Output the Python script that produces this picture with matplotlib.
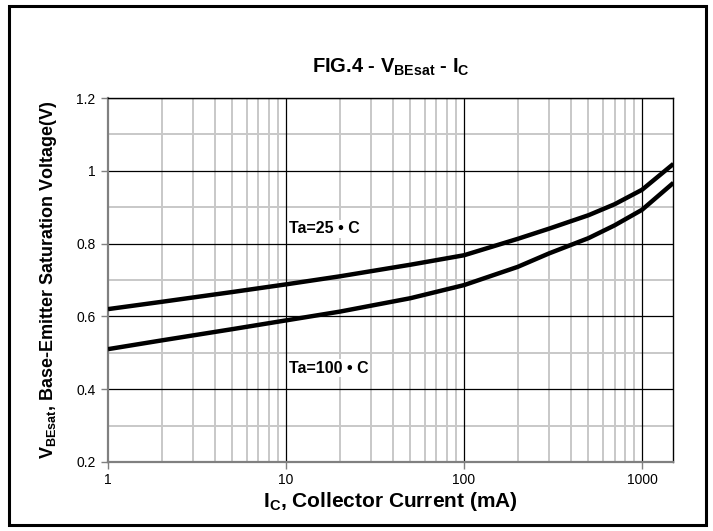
import matplotlib
matplotlib.use('Agg')
import matplotlib.pyplot as plt
from matplotlib.patches import Rectangle
from matplotlib.ticker import FixedLocator, NullFormatter

plt.rcParams['font.family'] = ['Liberation Sans', 'DejaVu Sans']
plt.rcParams['mathtext.fontset'] = 'custom'
plt.rcParams['mathtext.rm'] = 'Liberation Sans'
plt.rcParams['mathtext.bf'] = 'Liberation Sans:bold'

# collector current (mA) and base-emitter saturation voltage (V)
ic = [1, 2, 5, 10, 20, 50, 100, 200, 300, 500, 700, 1000, 1500]
vbe_25 = [0.620, 0.640, 0.667, 0.688, 0.710, 0.742, 0.768, 0.813, 0.841, 0.878, 0.908, 0.948, 1.019]
vbe_100 = [0.510, 0.534, 0.565, 0.589, 0.613, 0.650, 0.686, 0.736, 0.773, 0.815, 0.850, 0.893, 0.967]

label_25 = 'Ta=25 \u2022 C'
label_100 = 'Ta=100 \u2022 C'
x_ticks = [1, 10, 100, 1000]
y_ticks = [0.2, 0.4, 0.6, 0.8, 1.0, 1.2]
y_tick_labels = ['0.2', '0.4', '0.6', '0.8', '1', '1.2']

fig = plt.figure(figsize=(7.13, 5.31), dpi=100)
ax = fig.add_axes([0.1515, 0.130, 0.793, 0.6854])

# outer frame
fig.patches.append(Rectangle((0.0126, 0.011), 0.977, 0.978, transform=fig.transFigure,
                             fill=False, edgecolor='black', linewidth=2.2))

ax.set_xscale('log')
ax.set_xlim(1, 1500)
ax.set_ylim(0.2, 1.2)

minor_x = [m * 10 ** d for d in range(0, 4) for m in range(2, 10) if m * 10 ** d < 1500]
for x in minor_x:
    ax.axvline(x, color='#c8c8c8', linewidth=1.4, zorder=1)
for x in x_ticks[1:]:
    ax.axvline(x, color='black', linewidth=0.9, zorder=2)
for y in [0.3, 0.5, 0.7, 0.9, 1.1]:
    ax.axhline(y, color='#c8c8c8', linewidth=1.4, zorder=1)
for y in y_ticks[1:]:
    ax.axhline(y, color='black', linewidth=0.9, zorder=2)

ax.plot(ic, vbe_25, color='black', linewidth=3.2, solid_capstyle='butt', zorder=5)
ax.plot(ic, vbe_100, color='black', linewidth=3.2, solid_capstyle='butt', zorder=5)

ax.text(10.4, 0.841, label_25, fontsize=11.5, fontweight='bold', va='center', zorder=6,
        bbox=dict(facecolor='white', edgecolor='none', pad=1))
ax.text(10.4, 0.458, label_100, fontsize=11.5, fontweight='bold', va='center', zorder=6,
        bbox=dict(facecolor='white', edgecolor='none', pad=1))

ax.xaxis.set_major_locator(FixedLocator(x_ticks))
ax.set_xticklabels(['1', '10', '100', '1000'])
ax.xaxis.set_minor_locator(FixedLocator(minor_x))
ax.xaxis.set_minor_formatter(NullFormatter())
ax.set_yticks(y_ticks)
ax.set_yticklabels(y_tick_labels)
ax.tick_params(axis='both', which='major', labelsize=10, length=5, width=1,
               color='#808080', direction='out', pad=4)
ax.tick_params(axis='x', which='minor', length=0)
ax.tick_params(axis='x', which='major', pad=3)

for side in ['left', 'bottom']:
    ax.spines[side].set_color('#808080')
    ax.spines[side].set_linewidth(1.6)
for side in ['top', 'right']:
    ax.spines[side].set_color('black')
    ax.spines[side].set_linewidth(1.0)

ax.set_title(r'FIG.4 - V$_\mathbf{BEsat}$ - I$_\mathbf{C}$', fontsize=14.5,
             fontweight='bold', pad=18)
ax.set_xlabel(r'I$_\mathbf{C}$, Collector Current (mA)', fontsize=15,
              fontweight='bold', labelpad=2)
ax.set_ylabel(r'V$_\mathbf{BEsat}$, Base-Emitter Saturation Voltage(V)', fontsize=13,
              fontweight='bold', labelpad=12)

fig.savefig('out.png', dpi=100)
